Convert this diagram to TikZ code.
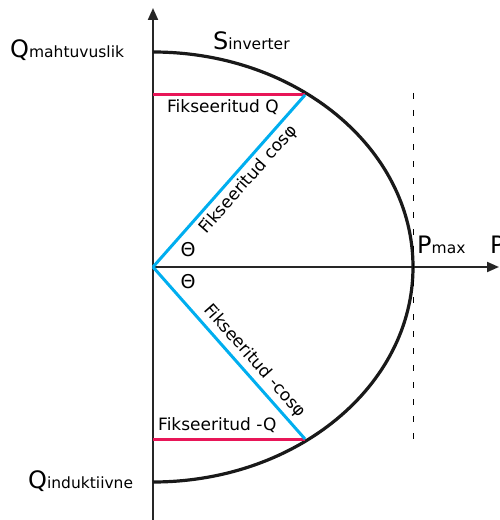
\documentclass[tikz,border=0pt]{standalone}
\usepackage{fontspec}
\setmainfont{DejaVu Sans}
\usetikzlibrary{arrows.meta}
\definecolor{fixred}{RGB}{232,22,88}
\definecolor{fixblue}{RGB}{0,174,239}
\newcommand{\bigletter}[1]{{\fontsize{24}{27}\selectfont #1}}
\tikzset{
  axis/.style={line width=2pt, draw=black!85, -{Triangle[length=12pt,width=10pt]}},
  lbl/.style={inner sep=0pt, anchor=base west, text=black, font=\fontsize{17}{20}\selectfont},
  qlbl/.style={lbl, font=\fontsize{15.5}{18}\selectfont},
  slopelbl/.style={sloped, text=black, inner sep=4pt, font=\fontsize{17}{20}\selectfont},
  fixline/.style={line width=3pt},
  curve/.style={line width=3.2pt, draw=black!90},
}
\begin{document}
\begin{tikzpicture}[x=1pt,y=1pt]
\useasboundingbox (-153,-253) rectangle (346,267);
% axes
\coordinate (O) at (0,0);
\coordinate (ytop) at (0,259);
\coordinate (ybot) at (0,-253);
\coordinate (xend) at (346,0);
\draw[axis] (ybot) -- (ytop);
\draw[axis] (O) -- (xend);
% S inverter
\coordinate (qtop) at (0,215);
\coordinate (qbot) at (0,-215);
\draw[curve] (qtop) arc[start angle=90, end angle=-90, x radius=260, y radius=215];
\coordinate (pq) at (152,172);
\coordinate (nq) at (152,-172);
\coordinate (fq) at (0,172);
\coordinate (fnq) at (0,-172);
\coordinate (dtop) at (260,174);
\coordinate (dbot) at (260,-173);
\draw[line width=1pt, dash pattern=on 6pt off 11pt] (dtop) -- (dbot);
% fixed Q / fixed cos
\draw[fixline, fixred] (fq) -- (pq);
\draw[fixline, fixred] (fnq) -- (nq);
\draw[fixline, fixblue] (O) -- node[slopelbl, below, pos=0.56] (lcos) {Fikseeritud cosφ} (pq);
\draw[fixline, fixblue] (O) -- node[slopelbl, above, pos=0.6] (lncos) {Fikseeritud -cosφ} (nq);
% labels
\node[qlbl] (qmah) at (-143,209) {\bigletter{Q}mahtuvuslik};
\node[qlbl] (sinv) at (60,217) {\bigletter{S}inverter};
\node[lbl] (lq) at (14,154) {Fikseeritud Q};
\node[lbl] (lnq) at (5,-163) {Fikseeritud -Q};
\node[qlbl] (qind) at (-125,-221) {\bigletter{Q}induktiivne};
\node[qlbl] (pmax) at (264,14) {\bigletter{P}max};
\node[qlbl] (paxis) at (337,14) {\bigletter{P}};
\node[font=\fontsize{19}{22}\selectfont, inner sep=0pt] (th1) at (35,17) {Θ};
\node[font=\fontsize{19}{22}\selectfont, inner sep=0pt] (th2) at (35,-15) {Θ};
\end{tikzpicture}
\end{document}
